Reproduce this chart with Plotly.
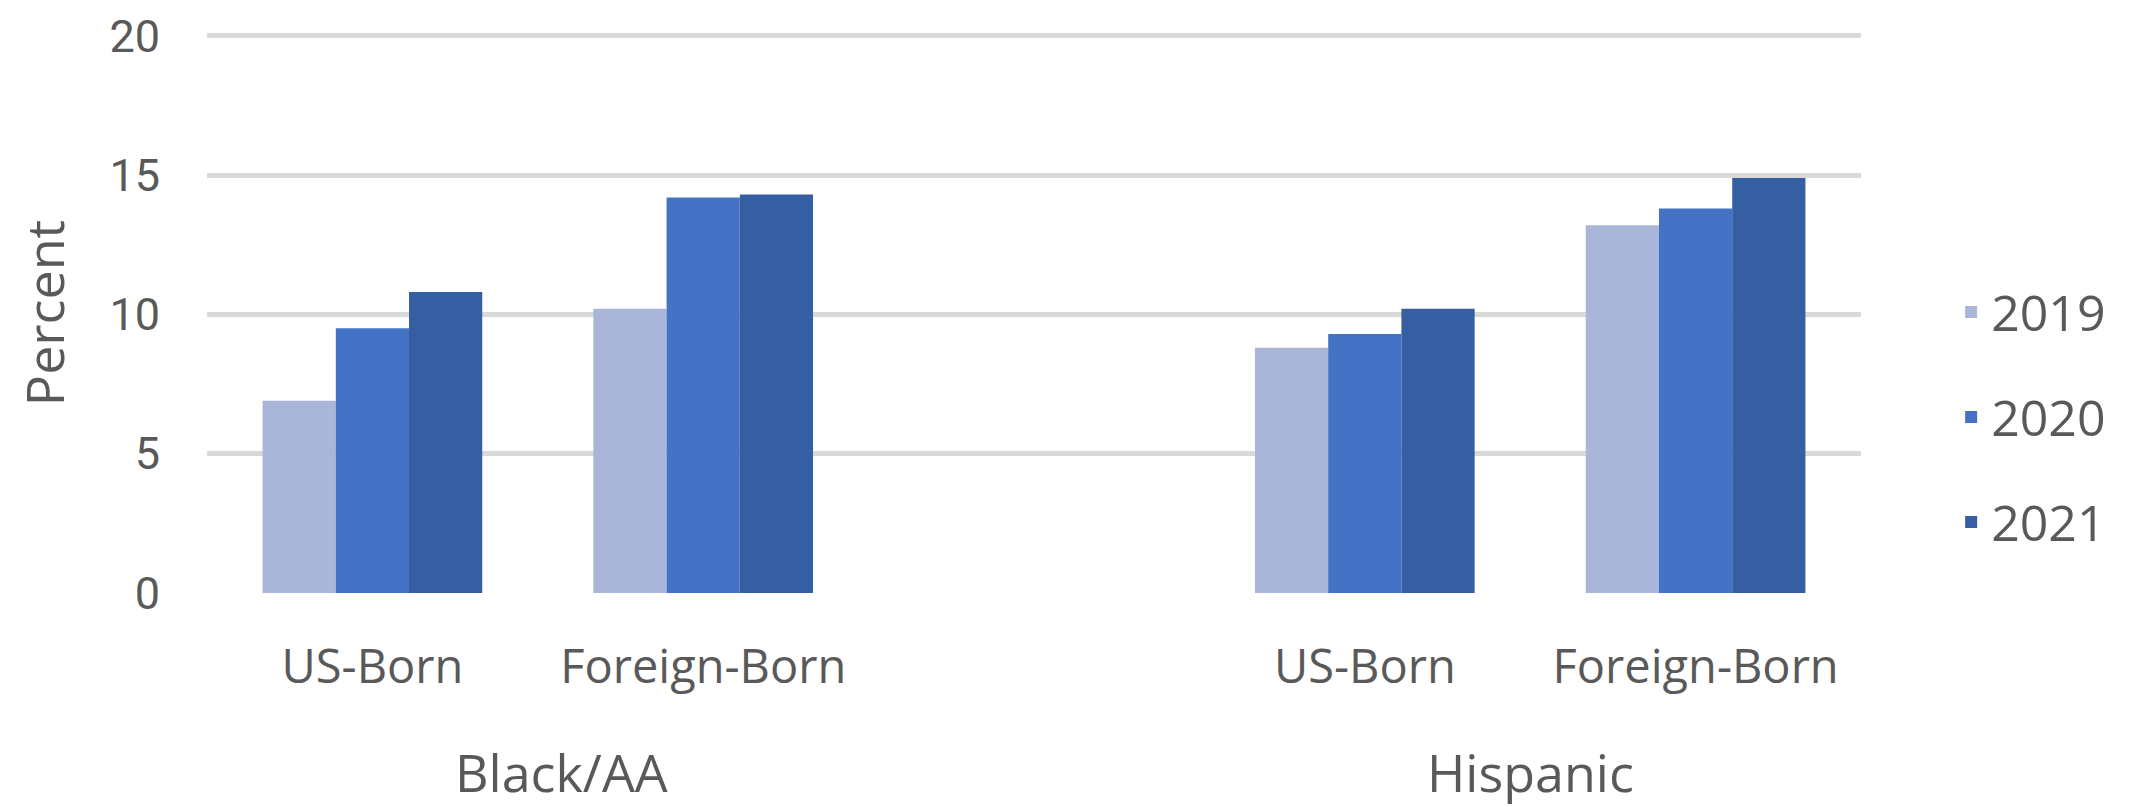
import plotly.graph_objects as go

# chart values
groups = ["Black/AA", "Hispanic"]
nativity = ["US-Born", "Foreign-Born"]
years = ["2019", "2020", "2021"]
pct_2019 = [6.9, 10.2, 8.8, 13.2]
pct_2020 = [9.5, 14.2, 9.3, 13.8]
pct_2021 = [10.8, 14.3, 10.2, 14.9]
y_ticks = [0, 5, 10, 15, 20]

colors = {"2019": "#A9B5D9", "2020": "#4472C4", "2021": "#365EA2"}
font = "Open Sans"
gray = "#595959"

# category keys, with an empty slot between the two groups
cats = [g + " " + n for g in groups for n in nativity]
spacer = " "
cat_order = cats[:2] + [spacer] + cats[2:]

fig = go.Figure()
for yr, vals in zip(years, [pct_2019, pct_2020, pct_2021]):
    fig.add_trace(go.Bar(
        x=cats[:2] + [spacer] + cats[2:],
        y=vals[:2] + [None] + vals[2:],
        name=yr, legendgroup=yr,
        marker=dict(color=colors[yr], line=dict(width=0)),
    ))

# group labels under the nativity labels
for i, g in enumerate(groups):
    mid = cat_order.index(cats[2 * i]) + 0.5
    fig.add_annotation(x=mid, xref="x", y=-0.318, yref="paper",
                       text=g, showarrow=False, yanchor="middle",
                       xshift=24 if i == 0 else 0,
                       font=dict(family=font, size=52, color=gray))

# page body adds 8px on the left/top, so the figure is 8px smaller
fig.update_layout(
    width=2130, height=799,
    margin=dict(l=199, r=277, t=25, b=214, autoexpand=False),
    plot_bgcolor="white", paper_bgcolor="white",
    barmode="group", bargap=0.336, bargroupgap=0,
    font=dict(family=font, color=gray, size=48),
    legend=dict(x=1.0545, xanchor="left", y=0.3143, yanchor="middle",
                font=dict(family=font, size=50, color=gray),
                tracegroupgap=37, itemwidth=30),
    showlegend=True,
)
fig.update_xaxes(
    type="category", categoryorder="array", categoryarray=cat_order,
    range=[-0.5, len(cat_order) - 0.5],
    tickvals=cats, ticktext=[n for g in groups for n in nativity],
    showgrid=False, showline=False, zeroline=False, ticks="",
    ticklabelstandoff=42, automargin=False,
    tickfont=dict(family=font, size=47, color=gray),
)
# Roboto for the numbers: shorter ascent keeps "20" inside the page
fig.update_yaxes(
    range=[0, 20.1], tickvals=y_ticks, showgrid=True,
    gridcolor="#D9D9D9", gridwidth=5, zeroline=False, showline=False,
    ticks="", ticklabelstandoff=46, ticklabeloverflow="allow",
    automargin=False,
    tickfont=dict(family="Roboto", size=45, color=gray),
    title=dict(text="Percent", standoff=33,
               font=dict(family=font, size=52, color=gray)),
)

fig.write_html("out.html")
